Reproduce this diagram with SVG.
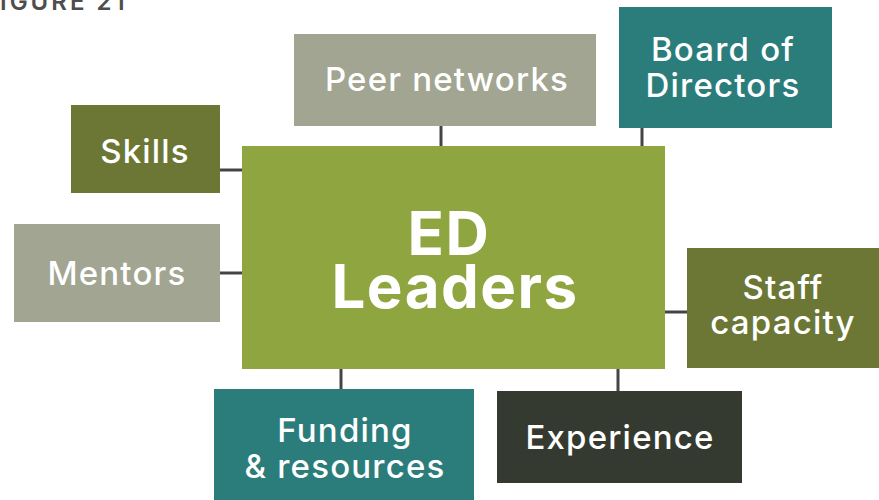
<svg xmlns="http://www.w3.org/2000/svg" width="879" height="500" viewBox="0 0 879 500">
<style>
.lbl{font-family:Inter,"Open Sans","DejaVu Sans",sans-serif;font-weight:500;font-size:33px;letter-spacing:1.2px;fill:#ffffff;text-anchor:middle}
.big{font-family:Inter,"Open Sans","DejaVu Sans",sans-serif;font-weight:700;font-size:60px;letter-spacing:1.5px;fill:#ffffff;text-anchor:middle}
.gray{fill:#a1a591}.teal{fill:#2b7d7b}.olive{fill:#6c7735}.center{fill:#8fa540}.dark{fill:#353a30}
.conn line{stroke:#444444;stroke-width:3}
</style>
<rect width="879" height="500" fill="#ffffff"/>
<text x="0" y="10" font-family="Inter,'DejaVu Sans',sans-serif" font-size="24" font-weight="600" fill="#4d4d4d" letter-spacing="3">IGURE 21</text>
<g id="connectors" class="conn">
<line x1="441" y1="126" x2="441" y2="146"/>
<line x1="642" y1="127" x2="642" y2="146"/>
<line x1="220" y1="170" x2="242" y2="170"/>
<line x1="220" y1="273" x2="242" y2="273"/>
<line x1="665" y1="312" x2="687" y2="312"/>
<line x1="341" y1="369" x2="341" y2="389"/>
<line x1="618" y1="369" x2="618" y2="391"/>
</g>
<g id="center">
<rect class="center" x="242" y="146" width="423" height="223"/>
<text class="big" x="449" y="255">ED</text>
<text class="big" x="455" y="308">Leaders</text>
</g>
<g id="peer">
<rect class="gray" x="294" y="34" width="302" height="92"/>
<text class="lbl" x="447" y="91">Peer networks</text>
</g>
<g id="board">
<rect class="teal" x="619" y="7" width="213" height="121"/>
<text class="lbl" x="723" y="61">Board of</text>
<text class="lbl" x="723" y="97">Directors</text>
</g>
<g id="skills">
<rect class="olive" x="71" y="105" width="149" height="88"/>
<text class="lbl" x="145" y="163">Skills</text>
</g>
<g id="mentors">
<rect class="gray" x="14" y="224" width="206" height="98"/>
<text class="lbl" x="117" y="285">Mentors</text>
</g>
<g id="staff">
<rect class="olive" x="687" y="248" width="192" height="120"/>
<text class="lbl" x="783" y="299">Staff</text>
<text class="lbl" x="783" y="334">capacity</text>
</g>
<g id="funding">
<rect class="teal" x="214" y="389" width="260" height="111"/>
<text class="lbl" x="345" y="442">Funding</text>
<text class="lbl" x="345" y="478">&amp; resources</text>
</g>
<g id="experience">
<rect class="dark" x="497" y="391" width="245" height="92"/>
<text class="lbl" x="620" y="449">Experience</text>
</g>
</svg>
